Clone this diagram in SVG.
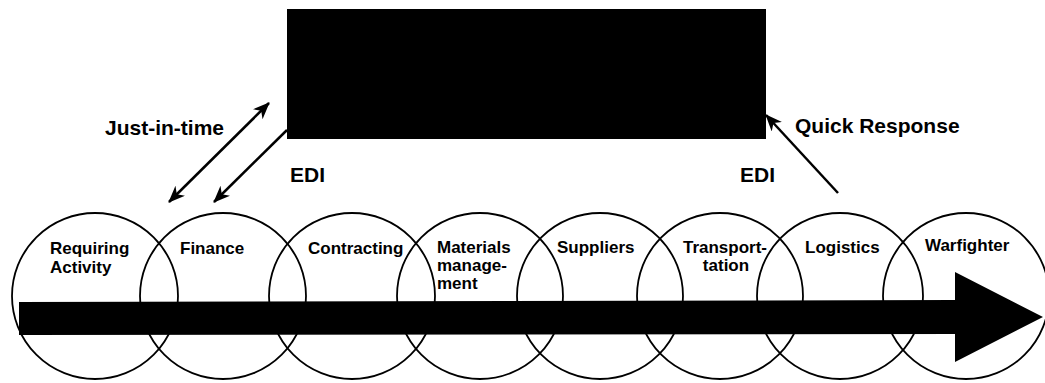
<svg xmlns="http://www.w3.org/2000/svg" width="1045" height="383" viewBox="0 0 1045 383">
<style>
.c{fill:none;stroke:#000;stroke-width:1.8}
.t{font-family:"Liberation Sans",Arial,sans-serif;font-weight:bold;font-size:17px;fill:#000}
.big{font-family:"Liberation Sans",Arial,sans-serif;font-weight:bold;font-size:21px;fill:#000}
.ln{stroke:#000;stroke-width:2.5;fill:none}
</style>
<defs>
<marker id="ah" markerUnits="userSpaceOnUse" markerWidth="20" markerHeight="16" refX="16" refY="7" orient="auto-start-reverse">
<path d="M0,0 L17,7 L0,14 L5,7 Z" fill="#000"/>
</marker>
</defs>
<rect width="1045" height="383" fill="#fff"/>
<g id="box"><rect x="287" y="9" width="479" height="130" fill="#000"/></g>
<g id="n-requiring"><circle class="c" cx="95" cy="296" r="83"/><text class="t" x="50" y="254">Requiring</text><text class="t" x="50" y="272.5">Activity</text></g>
<g id="n-finance"><circle class="c" cx="223" cy="296" r="83"/><text class="t" x="180" y="254">Finance</text></g>
<g id="n-contracting"><circle class="c" cx="352" cy="296" r="83"/><text class="t" x="308" y="254">Contracting</text></g>
<g id="n-materials"><circle class="c" cx="480" cy="296" r="83"/><text class="t" x="437" y="253">Materials</text><text class="t" x="437" y="271">manage-</text><text class="t" x="437" y="289">ment</text></g>
<g id="n-suppliers"><circle class="c" cx="600" cy="296" r="83"/><text class="t" x="557" y="253">Suppliers</text></g>
<g id="n-transport"><circle class="c" cx="720" cy="296" r="83"/><text class="t" x="725" y="253" text-anchor="middle">Transport-</text><text class="t" x="726" y="271" text-anchor="middle">tation</text></g>
<g id="n-logistics"><circle class="c" cx="840" cy="296" r="83"/><text class="t" x="805" y="253">Logistics</text></g>
<g id="n-warfighter"><circle class="c" cx="966" cy="296" r="83"/><text class="t" x="925" y="251">Warfighter</text></g>
<g id="flow"><path d="M19,302 L955,300 L955,272 L1043,317 L955,362 L955,334 L19,335 Z" fill="#000"/></g>
<g id="connectors">
<line class="ln" x1="169" y1="202" x2="269" y2="103" marker-start="url(#ah)" marker-end="url(#ah)"/>
<line class="ln" x1="287" y1="130" x2="214" y2="202" marker-end="url(#ah)"/>
<line class="ln" x1="838" y1="193" x2="766" y2="115" marker-end="url(#ah)"/>
</g>
<g id="labels">
<text class="big" x="105" y="135">Just-in-time</text>
<text class="big" x="290" y="182">EDI</text>
<text class="big" x="795" y="133">Quick Response</text>
<text class="big" x="740" y="182">EDI</text>
</g>
</svg>
